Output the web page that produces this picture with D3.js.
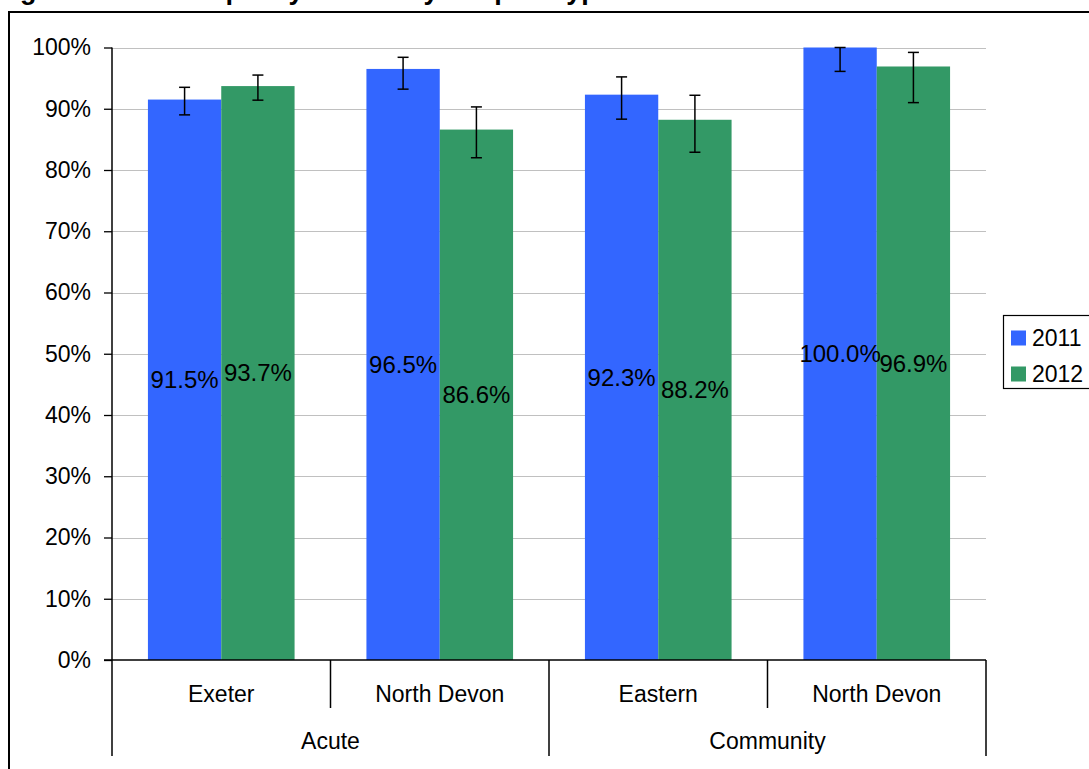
<!DOCTYPE html>
<html><head><meta charset="utf-8">
<script src="https://cdn.jsdelivr.net/npm/d3@7"></script>
<style>html,body{margin:0;padding:0;background:#fff;overflow:hidden}svg{display:block}</style>
</head><body>
<svg id="c" width="1089" height="769"></svg>
<script>
const titleText = "Figure 6: Overall quality of care by hospital type";
const subCategories = ["Exeter", "North Devon", "Eastern", "North Devon"];
const groups = ["Acute", "Community"];
const groupSpan = [2, 2];
const seriesNames = ["2011", "2012"];
const values2011 = [91.5, 96.5, 92.3, 100.0];
const values2012 = [93.7, 86.6, 88.2, 96.9];
const upper2011 = [93.5, 98.4, 95.2, 100.0];
const lower2011 = [89.0, 93.2, 88.3, 96.1];
const upper2012 = [95.5, 90.3, 92.2, 99.2];
const lower2012 = [91.4, 82.0, 82.9, 91.0];
const yTicks = [0,10,20,30,40,50,60,70,80,90,100];
const colors = ["#3366FF", "#339966"];

const svg = d3.select("#c");
const FONT = "Liberation Sans, Arial, sans-serif";

// title (cropped at top)
svg.append("text").attr("x", -4).attr("y", -1)
  .attr("font-family", FONT).attr("font-weight", "bold").attr("font-size", 27)
  .attr("fill", "#000").text(titleText);

// chart frame
svg.append("path").attr("d", "M9,790 L9,12 L1100,12")
  .attr("fill", "none").attr("stroke", "#000").attr("stroke-width", 2);

const x0 = 112, x1 = 986, yTop = 47.5, yBot = 660;
const y = d3.scaleLinear().domain([0, 100]).range([yBot, yTop]);
const keys = subCategories.map((d, i) => i);
const xg = d3.scaleBand().domain(keys).range([x0, x1]).paddingInner(0).paddingOuter(0);
const xs = d3.scaleBand().domain(seriesNames).range([0, xg.bandwidth()]).paddingInner(0).paddingOuter(0.49);

// gridlines
svg.append("g").selectAll("line").data(yTicks.filter(t => t > 0)).join("line")
  .attr("x1", x0).attr("x2", x1)
  .attr("y1", d => Math.round(y(d)) + 0.5).attr("y2", d => Math.round(y(d)) + 0.5)
  .attr("stroke", "#c0c0c0").attr("stroke-width", 1.2);

// y axis
const yAxis = d3.axisLeft(y).tickValues(yTicks).tickFormat(d => d + "%").tickSize(8).tickPadding(13);
const ya = svg.append("g").attr("transform", `translate(${x0},0)`).call(yAxis);
ya.select(".domain").remove();
ya.selectAll(".tick line").attr("stroke", "#000").attr("stroke-width", 1.3);
ya.selectAll(".tick text").attr("font-family", FONT).attr("font-size", 23).attr("fill", "#000");
svg.append("line").attr("x1", x0).attr("x2", x0).attr("y1", yTop).attr("y2", yBot)
  .attr("stroke", "#000").attr("stroke-width", 1.5);

// bars
const seriesVals = [values2011, values2012];
const seriesUp = [upper2011, upper2012];
const seriesLo = [lower2011, lower2012];
seriesNames.forEach((s, si) => {
  const g = svg.append("g");
  g.selectAll("rect").data(keys).join("rect")
    .attr("x", i => xg(i) + xs(s)).attr("width", xs.bandwidth())
    .attr("y", i => y(seriesVals[si][i])).attr("height", i => yBot - y(seriesVals[si][i]))
    .attr("fill", colors[si]);
});
// error bars
seriesNames.forEach((s, si) => {
  const g = svg.append("g").attr("stroke", "#000").attr("stroke-width", 1.5);
  keys.forEach(i => {
    const cx = xg(i) + xs(s) + xs.bandwidth() / 2;
    const yu = y(seriesUp[si][i]), yl = y(seriesLo[si][i]);
    g.append("line").attr("x1", cx).attr("x2", cx).attr("y1", yu).attr("y2", yl);
    g.append("line").attr("x1", cx - 5.5).attr("x2", cx + 5.5).attr("y1", yu).attr("y2", yu);
    g.append("line").attr("x1", cx - 5.5).attr("x2", cx + 5.5).attr("y1", yl).attr("y2", yl);
  });
});
// value labels
seriesNames.forEach((s, si) => {
  svg.append("g").selectAll("text").data(keys).join("text")
    .attr("x", i => xg(i) + xs(s) + xs.bandwidth() / 2)
    .attr("y", i => y(seriesVals[si][i] / 2))
    .attr("dy", "0.35em").attr("text-anchor", "middle")
    .attr("font-family", FONT).attr("font-size", 24).attr("fill", "#000")
    .text(i => seriesVals[si][i].toFixed(1) + "%");
});

// x axis line
svg.append("line").attr("x1", 104).attr("x2", x1).attr("y1", yBot).attr("y2", yBot)
  .attr("stroke", "#000").attr("stroke-width", 1.5);
// category separators
const bounds = [];
let acc = 0;
groupSpan.forEach(n => { bounds.push(acc); acc += n; });
bounds.push(acc);
const xAt = k => (k < keys.length ? xg(k) : x1);
keys.concat([keys.length]).forEach(k => {
  const isGroupEdge = bounds.includes(k);
  svg.append("line").attr("x1", xAt(k)).attr("x2", xAt(k))
    .attr("y1", yBot).attr("y2", isGroupEdge ? 756 : 708)
    .attr("stroke", "#000").attr("stroke-width", 1.5);
});
// sub-category labels
svg.append("g").selectAll("text").data(keys).join("text")
  .attr("x", i => xg(i) + xg.bandwidth() / 2).attr("y", 694).attr("dy", "0.35em")
  .attr("text-anchor", "middle").attr("font-family", FONT).attr("font-size", 23).attr("fill", "#000")
  .text(i => subCategories[i]);
// group labels
svg.append("g").selectAll("text").data(groups).join("text")
  .attr("x", (d, gi) => (xAt(bounds[gi]) + xAt(bounds[gi + 1])) / 2).attr("y", 741).attr("dy", "0.35em")
  .attr("text-anchor", "middle").attr("font-family", FONT).attr("font-size", 23).attr("fill", "#000")
  .text(d => d);

// legend
const lg = svg.append("g");
lg.append("rect").attr("x", 1003.5).attr("y", 315.5).attr("width", 120).attr("height", 73)
  .attr("fill", "#fff").attr("stroke", "#000").attr("stroke-width", 1.2);
seriesNames.forEach((s, si) => {
  const cy = 338 + si * 36;
  lg.append("rect").attr("x", 1011).attr("y", cy - 7.5).attr("width", 15).attr("height", 15).attr("fill", colors[si]);
  lg.append("text").attr("x", 1032).attr("y", cy).attr("dy", "0.35em")
    .attr("font-family", FONT).attr("font-size", 23).attr("fill", "#000").text(s);
});
</script>
</body></html>
